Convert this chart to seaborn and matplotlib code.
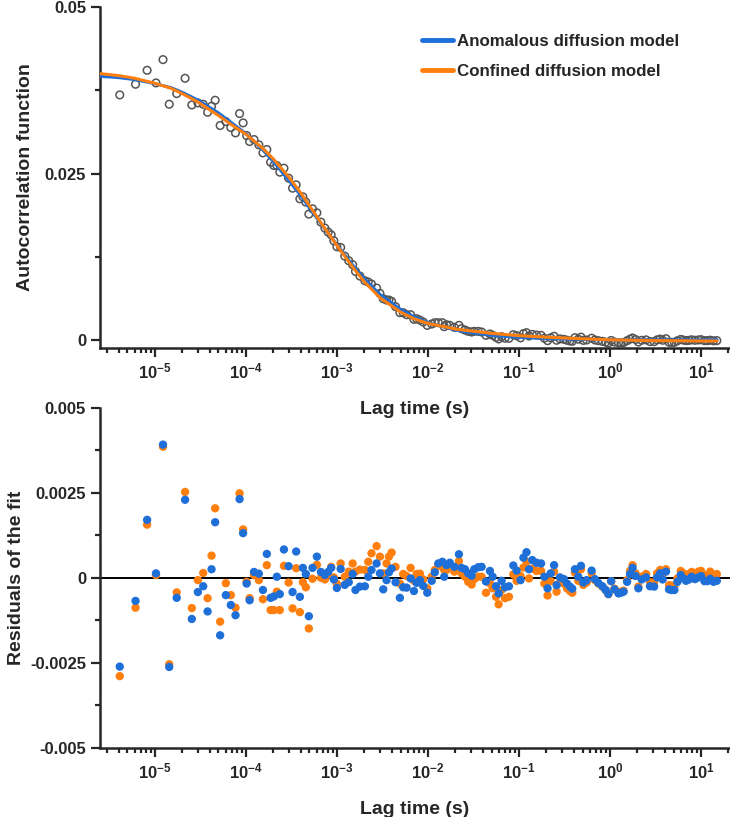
import numpy as np
import pandas as pd
import matplotlib
matplotlib.use("Agg")
import matplotlib.pyplot as plt
import seaborn as sns
from matplotlib.ticker import LogLocator, LogFormatterSciNotation, NullFormatter, MultipleLocator

# lag times (s) of the correlator channels
lag = [4.12e-6, 6.14e-6, 8.23e-6, 1.03e-5, 1.23e-5, 1.44e-5, 1.74e-5, 2.15e-5, 2.55e-5, 2.97e-5,
       3.40e-5, 3.80e-5, 4.20e-5, 4.60e-5, 5.22e-5, 6.03e-5, 6.84e-5, 7.70e-5, 8.53e-5, 9.33e-5,
       1.02e-4, 1.10e-4, 1.23e-4, 1.39e-4, 1.54e-4, 1.70e-4, 1.87e-4, 2.03e-4, 2.19e-4, 2.36e-4,
       2.62e-4, 2.95e-4, 3.26e-4, 3.57e-4, 3.92e-4, 4.23e-4, 4.56e-4, 4.92e-4, 5.40e-4, 6.03e-4,
       6.67e-4, 7.38e-4, 8.02e-4, 8.65e-4, 9.26e-4, 1.00e-3, 1.10e-3, 1.22e-3, 1.35e-3, 1.49e-3,
       1.60e-3, 1.79e-3,
       2.03e-3, 2.21e-3, 2.40e-3, 2.73e-3, 2.97e-3, 3.23e-3, 3.51e-3, 3.73e-3, 3.99e-3, 4.41e-3,
       4.92e-3, 5.35e-3, 5.83e-3, 6.45e-3, 7.02e-3, 7.50e-3, 8.16e-3, 8.88e-3, 9.83e-3, 1.10e-2,
       1.19e-2, 1.30e-2, 1.44e-2, 1.51e-2, 1.60e-2, 1.74e-2, 1.95e-2, 2.19e-2, 2.34e-2, 2.55e-2,
       2.77e-2, 3.02e-2, 3.23e-2, 3.57e-2, 3.89e-2, 4.34e-2, 4.80e-2, 5.14e-2, 5.59e-2, 5.98e-2,
       6.45e-2, 7.02e-2, 7.76e-2, 8.67e-2, 9.42e-2, 0.104, 0.112, 0.121, 0.129, 0.140,
       0.156, 0.175, 0.190, 0.206, 0.223, 0.243, 0.259, 0.282, 0.312, 0.337,
       0.363, 0.385, 0.412, 0.448, 0.480, 0.509, 0.554, 0.628, 0.683, 0.744,
       0.824, 0.896, 0.959, 1.03, 1.12, 1.24, 1.32, 1.41, 1.54, 1.66,
       1.77, 1.91, 2.05, 2.23, 2.49, 2.75, 3.05, 3.29, 3.55, 3.79,
       4.12, 4.45, 4.76, 5.09, 5.50, 5.98, 6.40, 6.84, 7.38, 7.89,
       8.59, 9.35, 10.0, 10.9, 11.7, 12.6, 13.7, 14.9]

# measured autocorrelation
acf = [0.0368, 0.0384, 0.0405, 0.0386, 0.0421, 0.0354, 0.0370, 0.0393, 0.0353, 0.0356,
       0.0354, 0.0342, 0.0351, 0.0360, 0.0322, 0.0328, 0.0319, 0.0311, 0.0340, 0.0326,
       0.0307, 0.0298, 0.0301, 0.0293, 0.0281, 0.0286, 0.0267, 0.0262, 0.0262, 0.0252,
       0.0258, 0.0243, 0.0228, 0.0233, 0.0212, 0.0215, 0.0207, 0.0189, 0.0197, 0.0191,
       0.0177, 0.0168, 0.0162, 0.0158, 0.0149, 0.0140, 0.0139, 0.0126, 0.0119, 0.0113,
       0.0103, 0.0096,
       0.0089, 0.0087, 0.0084, 0.0078, 0.0070, 0.0062, 0.0060, 0.0060, 0.0058, 0.0050,
       0.0041, 0.0041, 0.0038, 0.0038, 0.0031, 0.0032, 0.0030, 0.0027, 0.0022, 0.0024,
       0.0026, 0.0026, 0.0026, 0.0020, 0.0023, 0.0022, 0.0019, 0.0022, 0.0017, 0.0015,
       0.0013, 0.0012, 0.0013, 0.0013, 0.0012, 0.0007, 0.0009, 0.0007, 0.0004, 0.00016,
       0.0005, 0.00027, 0.00025, 0.0008, 0.00064, 0.00033, 0.00097, 0.0011, 0.0006, 0.00085,
       0.00074, 0.0007, 0.00027, -0.0001, 0.00033, 0.00056, -0.00004, 0.00017, 0.0001, -0.00004,
       -0.00014, -0.0002, 0.00035, 0.00012, 0.00043, -0.00006, 0.0, 0.00027, 0.00001, -0.0001,
       -0.0002, -0.00032, -0.00045, -0.00007, -0.00031, -0.00043, -0.00041, -0.00039, -0.0001, 0.00013,
       0.0003, 0.00007, -0.0003, -0.00004, 0.00002, -0.00024, -0.00025, 0.00002, 0.00014, -0.00004,
       0.00019, -0.00033, -0.00035, -0.00035, -0.00011, 0.00009, -0.00001, -0.00008, -0.00005, 0.00003,
       -0.00004, 0.00001, 0.00005, -0.0001, -0.0001, -0.00003, -0.00012, -0.00009]

# residuals, anomalous diffusion fit
res_anom = [-0.00261, -0.00068, 0.00170, 0.00013, 0.00391, -0.00262, -0.00059, 0.00229, -0.00121, -0.00042,
            -0.00025, -0.00099, 0.00025, 0.00163, -0.00169, -0.00051, -0.00080, -0.00110, 0.00231, 0.00131,
            -0.00017, -0.00066, 0.00017, 0.00012, -0.00036, 0.00070, -0.00059, -0.00055, 0.00003, -0.00048,
            0.00083, 0.00034, -0.00042, 0.00077, -0.00056, 0.00029, 0.00011, -0.00113, 0.00029, 0.00062,
            0.00017, 0.00008, 0.00017, 0.00029, -0.00005, -0.00030, 0.00026, -0.00021, -0.00013, 0.00011,
            -0.00036, -0.00026,
            -0.00025, 0.00003, 0.00023, 0.00042, 0.00013, -0.00034, -0.00007, 0.00016, 0.00027, -0.00013,
            -0.00059, -0.00028, -0.00029, -0.00002, -0.00039, -0.00015, -0.00007, -0.00024, -0.00044, -0.00009,
            0.00016, 0.00042, 0.00047, 0.00003, 0.00037, 0.00044, 0.00032, 0.00069, 0.00029, 0.00025,
            0.00013, 0.00006, 0.00025, 0.00031, 0.00032, -0.00011, 0.00020, 0.00003, -0.00025, -0.00046,
            -0.00009, -0.00028, -0.00025, 0.00036, 0.00021, -0.00007, 0.00059, 0.00075, 0.00025, 0.00052,
            0.00044, 0.00042, 0.00003, -0.00031, 0.00013, 0.00037, -0.00022, 0.00001, -0.00004, -0.00017,
            -0.00026, -0.00032, 0.00025, 0.00003, 0.00035, -0.00014, -0.00007, 0.00021, -0.00004, -0.00015,
            -0.00025, -0.00036, -0.00048, -0.00010, -0.00034, -0.00046, -0.00044, -0.00041, -0.00012, 0.00011,
            0.00029, 0.00005, -0.00031, -0.00005, 0.00001, -0.00025, -0.00026, 0.00001, 0.00013, -0.00005,
            0.00018, -0.00034, -0.00036, -0.00036, -0.00012, 0.00008, -0.00002, -0.00009, -0.00005, 0.00003,
            -0.00004, 0.00001, 0.00005, -0.00010, -0.00010, -0.00003, -0.00012, -0.00009]

# residuals, confined diffusion fit
res_conf = [-0.00289, -0.00088, 0.00156, 0.00008, 0.00385, -0.00254, -0.00043, 0.00252, -0.00089, -0.00007,
            0.00014, -0.00060, 0.00065, 0.00204, -0.00129, -0.00016, -0.00051, -0.00088, 0.00248, 0.00142,
            -0.00012, -0.00060, 0.00008, -0.00007, -0.00063, 0.00037, -0.00095, -0.00095, -0.00041, -0.00095,
            0.00035, -0.00014, -0.00090, 0.00028, -0.00101, -0.00013, -0.00028, -0.00149, -0.00003, 0.00038,
            0.00000, -0.00005, 0.00010, 0.00032, 0.00001, -0.00018, 0.00042, 0.00003, 0.00018, 0.00042,
            0.00018, 0.00024,
            0.00023, 0.00047, 0.00072, 0.00093, 0.00062, 0.00013, 0.00042, 0.00062, 0.00074, 0.00032,
            -0.00017, 0.00011, 0.00005, 0.00029, -0.00009, 0.00011, 0.00012, -0.00005, -0.00031, 0.00003,
            0.00023, 0.00039, 0.00032, 0.00023, 0.00023, 0.00032, 0.00018, 0.00049, 0.00013, 0.00003,
            -0.00012, -0.00020, -0.00004, 0.00003, 0.00003, -0.00044, -0.00017, -0.00031, -0.00056, -0.00078,
            -0.00036, -0.00060, -0.00056, 0.00010, -0.00009, 0.00005, 0.00030, 0.00047, -0.00002, 0.00027,
            0.00020, 0.00020, -0.00017, -0.00052, -0.00010, 0.00018, -0.00041, -0.00014, -0.00017, -0.00031,
            -0.00039, -0.00044, 0.00015, -0.00009, 0.00025, -0.00021, -0.00014, 0.00013, -0.00007, -0.00017,
            -0.00026, -0.00036, -0.00048, -0.00010, -0.00032, -0.00044, -0.00041, -0.00038, -0.00007, 0.00020,
            0.00037, 0.00013, -0.00026, 0.00003, 0.00011, -0.00013, -0.00013, 0.00013, 0.00023, 0.00011,
            0.00025, -0.00022, -0.00023, -0.00025, -0.00002, 0.00020, 0.00013, 0.00008, 0.00011, 0.00017,
            0.00011, 0.00018, 0.00020, 0.00008, 0.00005, 0.00018, 0.00005, 0.00011]

# fitted curves
fit_lag = [2.5e-6, 4e-6, 6e-6, 1e-5, 1.5e-5, 2e-5, 3e-5, 5e-5, 7e-5, 1e-4, 1.5e-4, 2e-4, 3e-4, 4e-4,
           5e-4, 7e-4, 1e-3, 1.5e-3, 2e-3, 3e-3, 5e-3, 7e-3, 1e-2, 2e-2, 3e-2, 5e-2, 0.1, 0.2, 0.5, 1, 3, 15]
fit_anom = [0.0396, 0.0394, 0.0391, 0.0385, 0.0379, 0.0372, 0.0360, 0.0341, 0.0326, 0.0310, 0.0287, 0.0268,
            0.0239, 0.0217, 0.0198, 0.0171, 0.0143, 0.0112, 0.0092, 0.0068, 0.0046, 0.0035, 0.0026, 0.0015,
            0.0011, 0.0007, 0.0004, 0.00022, 0.00008, 0.00003, 0.00001, 0.0]
fit_conf = [0.0400, 0.0397, 0.0393, 0.03855, 0.0378, 0.0370, 0.0357, 0.0337, 0.0323, 0.0309, 0.0289, 0.0272,
            0.02437, 0.0221, 0.02015, 0.0172, 0.0142, 0.0109, 0.00875, 0.0063, 0.0042, 0.0032, 0.0025, 0.00165,
            0.00135, 0.0010, 0.00065, 0.00042, 0.00018, 0.00003, -0.00009, -0.00015]

xticks = [1e-5, 1e-4, 1e-3, 1e-2, 1e-1, 1e0, 1e1]
acf_ticks = [0, 0.025, 0.05]
acf_labels = ["0", "0.025", "0.05"]
res_ticks = [-0.005, -0.0025, 0, 0.0025, 0.005]
res_labels = ["-0.005", "-0.0025", "0", "0.0025", "0.005"]

blue = "#1f6fd8"
orange = "#ff7f0e"

df = pd.DataFrame({"lag": lag, "acf": acf, "res_anom": res_anom, "res_conf": res_conf})
fits = pd.DataFrame({"lag": fit_lag, "anom": fit_anom, "conf": fit_conf})

sns.set_style("ticks")
plt.rcParams["font.family"] = ["Liberation Sans", "DejaVu Sans"]
plt.rcParams["font.weight"] = "bold"
plt.rcParams["axes.labelweight"] = "bold"

fig = plt.figure(figsize=(7.3, 8.17), dpi=100)
ax1 = fig.add_axes([100/730, 1 - 348/817, 630/730, 341/817])
ax2 = fig.add_axes([100/730, 1 - 748/817, 630/730, 340.5/817])
ax1.patch.set_alpha(0)
ax2.patch.set_alpha(0)

# top: data + fits
sns.scatterplot(data=df, x="lag", y="acf", ax=ax1, s=30, facecolor="none",
                edgecolor="#555555", linewidth=1.1, zorder=2)
sns.lineplot(data=fits, x="lag", y="anom", ax=ax1, color=blue, lw=2.2,
             label="Anomalous diffusion model", zorder=3)
sns.lineplot(data=fits, x="lag", y="conf", ax=ax1, color=orange, lw=2.2,
             label="Confined diffusion model", zorder=4)

# bottom: residuals
ax2.axhline(0, color="black", lw=1.4, zorder=1)
sns.scatterplot(data=df, x="lag", y="res_conf", ax=ax2, s=36, color=orange, edgecolor="none", zorder=2)
sns.scatterplot(data=df, x="lag", y="res_anom", ax=ax2, s=36, color=blue, edgecolor="none", zorder=3)

for ax in (ax1, ax2):
    ax.set_xscale("log")
    ax.set_xlim(2.5e-6, 20.8)
    ax.set_xticks(xticks)
    ax.xaxis.set_major_formatter(LogFormatterSciNotation())
    ax.xaxis.set_minor_locator(LogLocator(base=10, subs=np.arange(2, 10), numticks=20))
    ax.xaxis.set_minor_formatter(NullFormatter())
    ax.tick_params(which="major", direction="out", length=6.5, width=1.6, labelsize=12, pad=3.5)
    ax.tick_params(which="minor", direction="out", length=3.5, width=1.6)
    ax.set_xlabel("Lag time (s)", fontsize=14, fontweight="bold", labelpad=14)
    for s in ("top", "right"):
        ax.spines[s].set_visible(False)
    for s in ("left", "bottom"):
        ax.spines[s].set_linewidth(1.8)

ax1.set_ylim(-0.0012, 0.05)
ax1.set_yticks(acf_ticks)
ax1.set_yticklabels(acf_labels)
ax1.yaxis.set_minor_locator(MultipleLocator(0.0125))
ax1.set_ylabel("Autocorrelation function", fontsize=14, fontweight="bold", labelpad=8)

ax2.set_ylim(-0.005, 0.005)
ax2.set_yticks(res_ticks)
ax2.set_yticklabels(res_labels)
ax2.yaxis.set_minor_locator(MultipleLocator(0.00125))
ax2.set_ylabel("Residuals of the fit", fontsize=14, fontweight="bold", labelpad=4)

leg = ax1.legend(loc="upper left", bbox_to_anchor=(0.501, 0.94), frameon=False,
                 prop={"size": 12.2, "weight": "bold"}, handlelength=1.8,
                 handletextpad=0.25, labelspacing=0.85, borderaxespad=0)
for h in leg.get_lines():
    h.set_linewidth(3.5)

fig.savefig("out.png", dpi=100)
